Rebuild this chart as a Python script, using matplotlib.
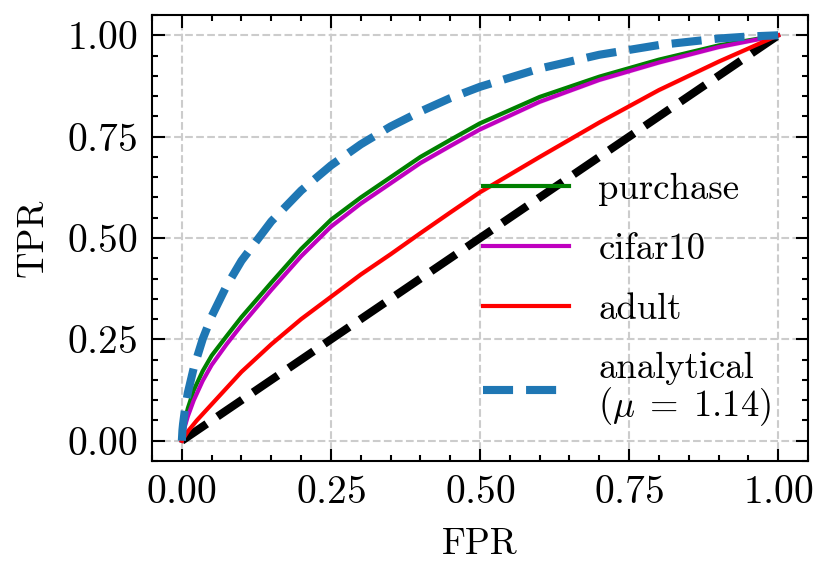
import matplotlib
matplotlib.use("Agg")
import matplotlib.pyplot as plt

# ROC points
fpr_purchase = [0, 0.005, 0.01, 0.02, 0.035, 0.05, 0.075, 0.1, 0.15, 0.2, 0.25,
                0.3, 0.35, 0.4, 0.45, 0.5, 0.6, 0.7, 0.8, 0.9, 1.0]
tpr_purchase = [0, 0.05, 0.08, 0.125, 0.172, 0.21, 0.258, 0.305, 0.39, 0.473, 0.545,
                0.60, 0.65, 0.70, 0.742, 0.783, 0.848, 0.898, 0.940, 0.975, 1.0]

fpr_cifar10 = [0, 0.005, 0.01, 0.02, 0.035, 0.05, 0.075, 0.1, 0.15, 0.2, 0.25,
               0.3, 0.35, 0.4, 0.45, 0.5, 0.6, 0.7, 0.8, 0.9, 1.0]
tpr_cifar10 = [0, 0.035, 0.06, 0.10, 0.148, 0.187, 0.238, 0.285, 0.372, 0.455, 0.528,
               0.585, 0.635, 0.685, 0.727, 0.768, 0.836, 0.89, 0.933, 0.971, 1.0]

fpr_adult = [0, 0.01, 0.025, 0.05, 0.1, 0.15, 0.2, 0.25, 0.3, 0.35, 0.4,
             0.45, 0.5, 0.6, 0.7, 0.75, 0.8, 0.9, 1.0]
tpr_adult = [0, 0.023, 0.05, 0.09, 0.17, 0.238, 0.30, 0.355, 0.41, 0.46, 0.512,
             0.563, 0.613, 0.70, 0.785, 0.825, 0.865, 0.935, 1.0]

fpr_analytical = [0, 0.001, 0.002, 0.005, 0.01, 0.02, 0.035, 0.05, 0.075, 0.1, 0.15,
                  0.2, 0.25, 0.3, 0.35, 0.4, 0.45, 0.5, 0.6, 0.7, 0.8, 0.9, 0.95, 1.0]
tpr_analytical = [0, 0.026, 0.041, 0.075, 0.118, 0.180, 0.251, 0.307, 0.382, 0.444, 0.541,
                  0.617, 0.679, 0.731, 0.775, 0.812, 0.845, 0.873, 0.918, 0.952, 0.976,
                  0.992, 0.997, 1.0]

diag = [0, 1]
band = 0.005  # half-width of the faint shaded band around the empirical curves

plt.rcParams['font.family'] = 'cmr10'
plt.rcParams['mathtext.fontset'] = 'cm'
plt.rcParams['axes.formatter.use_mathtext'] = True
plt.rcParams['font.size'] = 8.8
plt.rcParams['xtick.labelsize'] = 9.5
plt.rcParams['ytick.labelsize'] = 9.5
plt.rcParams['axes.linewidth'] = 0.5
for ax_name in ('xtick', 'ytick'):
    plt.rcParams[ax_name + '.direction'] = 'in'
    plt.rcParams[ax_name + '.major.size'] = 3
    plt.rcParams[ax_name + '.minor.size'] = 1.5
    plt.rcParams[ax_name + '.major.width'] = 0.5
    plt.rcParams[ax_name + '.minor.width'] = 0.5
    plt.rcParams[ax_name + '.minor.visible'] = True
plt.rcParams['xtick.top'] = True
plt.rcParams['ytick.right'] = True

fig = plt.figure(figsize=(829 / 300, 578 / 300), dpi=300)
ax = fig.add_axes([0.1834, 0.2024, 0.7913, 0.7716])

ax.grid(True, linestyle='--', linewidth=0.5, color='#cccccc')
ax.set_axisbelow(True)

ax.plot(diag, diag, color='k', linestyle='--', linewidth=1.95)

curves = [
    (fpr_purchase, tpr_purchase, 'g', 'purchase'),
    (fpr_cifar10, tpr_cifar10, 'm', 'cifar10'),
    (fpr_adult, tpr_adult, 'r', 'adult'),
]
for xs, ys, c, name in curves:
    lo = [max(y - band, 0) for y in ys]
    hi = [min(y + band, 1) for y in ys]
    ax.fill_between(xs, lo, hi, color=c, alpha=0.2, linewidth=0)
    ax.plot(xs, ys, color=c, linewidth=1.0, label=name)

ax.plot(fpr_analytical, tpr_analytical, color='#1f77b4', linestyle='--', linewidth=1.95,
        label='analytical\n' + r'$(\mu\;=\;1.14)$')

ax.set_xlim(-0.05, 1.05)
ax.set_ylim(-0.05, 1.05)
ax.set_xticks([0, 0.25, 0.5, 0.75, 1.0])
ax.set_yticks([0, 0.25, 0.5, 0.75, 1.0])
ax.set_xlabel('FPR')
ax.set_ylabel('TPR')

leg = ax.legend(loc='lower right', bbox_to_anchor=(0.995, 0.0), frameon=False,
                handlelength=2.35, labelspacing=0.72, handletextpad=0.8)
for t in leg.get_texts():
    t.set_linespacing(1.0)

fig.savefig('out.png', dpi=300)
